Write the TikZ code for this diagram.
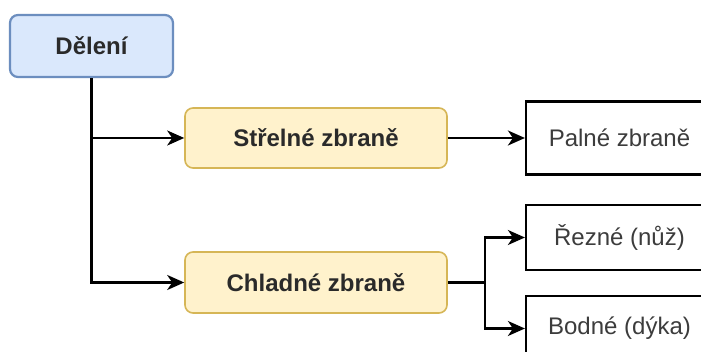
\documentclass[tikz,border=0pt]{standalone}
\usepackage{fontspec}
\setmainfont{Liberation Sans}
\usetikzlibrary{arrows.meta}
\definecolor{bluefill}{HTML}{DAE8FC}
\definecolor{bluedraw}{HTML}{6C8EBF}
\definecolor{yelfill}{HTML}{FFF2CC}
\definecolor{yeldraw}{HTML}{D6B656}
\definecolor{txt}{HTML}{2A2A2A}
\definecolor{txtgray}{HTML}{3C3C3C}
\tikzset{
  basebox/.style={draw, inner sep=0pt, font=\fontsize{24}{28}\selectfont},
  bluebox/.style={basebox, fill=bluefill, draw=bluedraw, line width=2.2pt, rounded corners=8pt, text=txt, font=\fontsize{24}{28}\selectfont\bfseries},
  yelbox/.style={basebox, fill=yelfill, draw=yeldraw, line width=1.6pt, rounded corners=8pt, text=txt, font=\fontsize{24}{28}\selectfont\bfseries},
  plainbox/.style={basebox, fill=white, draw=black, line width=2.2pt, text=txtgray},
  conn/.style={draw=black, line width=2.2pt},
  arr/.style={conn, -{Stealth[length=17pt,width=15pt,inset=5pt]}}
}
\begin{document}
\begin{tikzpicture}[x=1pt,y=-1pt]
\useasboundingbox[fill=white] (0,0) rectangle (701,352);
\node[bluebox, minimum width=163pt, minimum height=62pt] (del) at (91.5,46) {Dělení};
\node[yelbox, minimum width=262pt, minimum height=60pt] (str) at (316,138) {Střelné zbraně};
\node[yelbox, minimum width=262pt, minimum height=61pt] (chl) at (316,282.5) {Chladné zbraně};
\node[plainbox, minimum width=187pt, minimum height=73pt] (pal) at (619.5,138) {Palné zbraně};
\node[plainbox, minimum width=187pt, minimum height=65pt] (rez) at (619.5,237.5) {Řezné (nůž)};
\node[plainbox, minimum width=187pt, minimum height=65pt] (bod) at (619.5,328.5) {Bodné (dýka)};
\coordinate (j) at (485,282.5);
\draw[arr] (del.south) |- (str.west);
\draw[arr] (del.south) |- (chl.west);
\draw[arr] (str.east) -- (pal.west);
\draw[conn] (chl.east) -- (j);
\draw[arr] (j) |- (rez.west);
\draw[arr] (j) |- (bod.west);
\end{tikzpicture}
\end{document}
